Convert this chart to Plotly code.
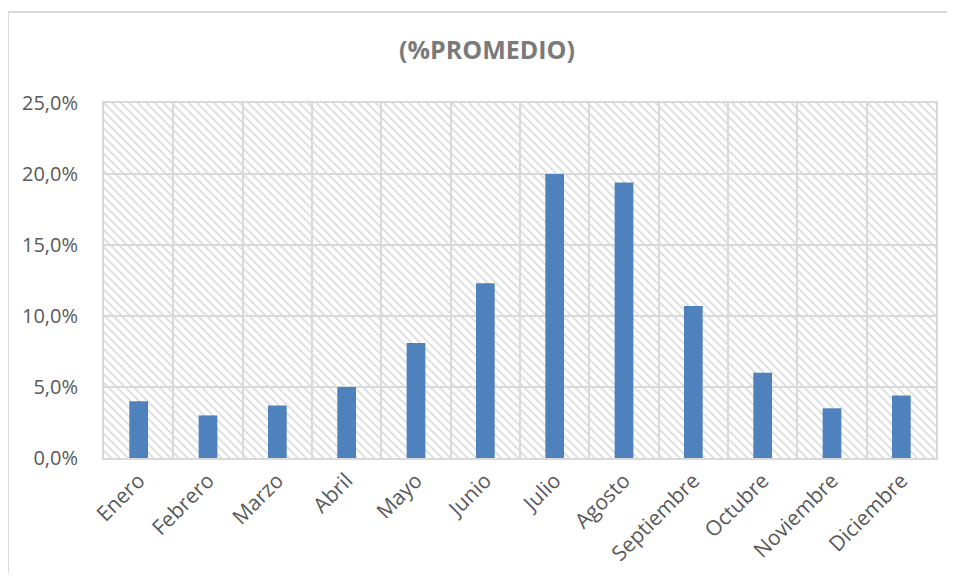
import plotly.graph_objects as go

meses = ["Enero", "Febrero", "Marzo", "Abril", "Mayo", "Junio", "Julio",
         "Agosto", "Septiembre", "Octubre", "Noviembre", "Diciembre"]
promedio = [0.040, 0.030, 0.037, 0.050, 0.081, 0.123, 0.200,
            0.194, 0.107, 0.060, 0.035, 0.044]
y_ticks = [0.0, 0.05, 0.10, 0.15, 0.20, 0.25]
y_tick_labels = ["0,0%", "5,0%", "10,0%", "15,0%", "20,0%", "25,0%"]

OFF = 8  # page body offset
W, H = 955 - 2 * OFF, 581 - 2 * OFF
L, T = 104 - OFF, 103 - OFF
R, B = W - (936 - OFF), H - (458 - OFF)
pw, ph = W - L - R, H - T - B

fig = go.Figure()

# hatched plot background on hidden main axis
fig.add_trace(go.Bar(
    x=[0.5], y=[y_ticks[-1]], width=[1], xaxis="x", yaxis="y",
    marker=dict(color="rgba(0,0,0,0)", line=dict(width=0),
                pattern=dict(shape="\\", fgcolor="#d9d9d9", size=6,
                             solidity=0.28, fillmode="replace")),
    hoverinfo="skip", showlegend=False,
))

# data bars on overlaying category axis (drawn above)
fig.add_trace(go.Bar(
    x=meses, y=promedio, xaxis="x2", yaxis="y",
    marker=dict(color="#4F81BD", line=dict(width=0)),
    width=0.27,
    showlegend=False,
))

font_fam = "Open Sans, Lato, Liberation Sans, sans-serif"

fig.update_layout(
    width=W, height=H,
    margin=dict(l=L, r=R, t=T, b=B, autoexpand=False),
    paper_bgcolor="white", plot_bgcolor="white",
    barmode="overlay",
    title=dict(text="<b>(%PROMEDIO)</b>", x=(487 - OFF) / W, xanchor="center",
               y=1 - (50 - OFF) / H, yanchor="middle",
               font=dict(family=font_fam, size=25, color="#7a7a7a")),
    xaxis=dict(range=[0, 1], visible=False, showgrid=False, zeroline=False),
    xaxis2=dict(
        overlaying="x", side="bottom",
        type="category", tickson="boundaries", showgrid=True,
        gridcolor="#d9d9d9", gridwidth=2,
        showline=True, linecolor="#d9d9d9", linewidth=2, mirror=True,
        ticks="", tickangle=-45,
        tickfont=dict(family=font_fam, size=21, color="#595959"),
        range=[-0.5, len(meses) - 0.5],
    ),
    yaxis=dict(
        range=[0, y_ticks[-1]], tickvals=y_ticks, ticktext=y_tick_labels,
        showgrid=True, gridcolor="#d9d9d9", gridwidth=2,
        showline=True, linecolor="#d9d9d9", linewidth=2, mirror=True,
        ticks="", ticklabelstandoff=20, zeroline=False,
        tickfont=dict(family=font_fam, size=20, color="#595959"),
    ),
    shapes=[
        dict(type="line", xref="paper", yref="paper",
             x0=(8 - 104) / pw, x1=(8 - 104) / pw,
             y0=-2, y1=(458 - 12) / ph,
             line=dict(color="#d9d9d9", width=2)),
        dict(type="line", xref="paper", yref="paper",
             x0=(8 - 104) / pw, x1=1.5,
             y0=(458 - 12) / ph, y1=(458 - 12) / ph,
             line=dict(color="#d9d9d9", width=2)),
    ],
)

fig.write_html("out.html")
